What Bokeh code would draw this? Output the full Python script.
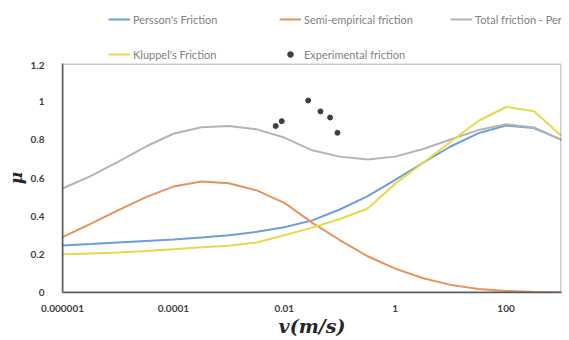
from bokeh.plotting import figure
from bokeh.layouts import column
from bokeh.models import Range1d, FixedTicker, Legend, LegendItem, BoxAnnotation
from bokeh.embed import file_html
from bokeh.resources import INLINE

# ---- data ----
velocity = [1e-6, 3.2e-6, 1e-5, 3.2e-5, 1e-4, 3.2e-4, 1e-3, 3.2e-3, 1e-2, 3.2e-2,
            0.1, 0.32, 1, 3.2, 10, 32, 100, 320, 1000]
persson = [0.246, 0.254, 0.262, 0.270, 0.278, 0.288, 0.300, 0.318, 0.342, 0.378,
           0.435, 0.505, 0.590, 0.680, 0.765, 0.835, 0.875, 0.862, 0.800]
semi_empirical = [0.290, 0.360, 0.430, 0.500, 0.555, 0.582, 0.572, 0.535, 0.470, 0.365,
                  0.275, 0.190, 0.125, 0.075, 0.040, 0.018, 0.008, 0.003, 0.000]
total_persson = [0.545, 0.610, 0.685, 0.765, 0.832, 0.866, 0.872, 0.855, 0.812, 0.745,
                 0.712, 0.697, 0.712, 0.752, 0.802, 0.852, 0.882, 0.865, 0.800]
kluppel = [0.200, 0.205, 0.210, 0.218, 0.227, 0.237, 0.245, 0.262, 0.300, 0.340,
           0.385, 0.440, 0.570, 0.680, 0.790, 0.900, 0.972, 0.950, 0.820]
exp_velocity = [0.007, 0.009, 0.027, 0.045, 0.067, 0.091]
exp_friction = [0.872, 0.898, 1.006, 0.949, 0.917, 0.837]

x_ticks = [1e-6, 1e-4, 1e-2, 1, 100]
x_tick_labels = ["0.000001", "0.0001", "0.01", "1", "100"]
y_ticks = [0, 0.2, 0.4, 0.6, 0.8, 1.0, 1.2]
y_tick_labels = ["0", "0.2", "0.4", "0.6", "0.8", "1", "1.2"]

series_names = ["Persson's Friction", "Semi-empirical friction", "Total friction - Person",
                "Kluppel's Friction", "Experimental friction"]
series_values = [persson, semi_empirical, total_persson, kluppel]
series_colors = ["#6E9ED4", "#E6925C", "#B4B4B4", "#E6DA4A"]
POINT_COLOR = "#3f3f3f"

X_MIN, X_MAX, Y_MIN, Y_MAX = 1e-6, 1000, 0, 1.2
FRAME = "#5a5a5a"

# ---------------- main chart ----------------
p = figure(width=569, height=279, x_axis_type="log",
           x_range=Range1d(X_MIN, X_MAX), y_range=Range1d(Y_MIN, Y_MAX),
           output_backend="svg", toolbar_location=None,
           min_border_left=62, min_border_right=8, min_border_top=2, min_border_bottom=48)
p.background_fill_color = "white"
p.border_fill_color = "white"
p.grid.visible = False
p.outline_line_color = None

for vals, col in zip(series_values, series_colors):
    p.line(velocity, vals, line_color=col, line_width=2)
p.scatter(exp_velocity, exp_friction, marker="circle", size=5,
          fill_color=POINT_COLOR, line_color=POINT_COLOR)

# plot-area frame along the range limits
p.add_layout(BoxAnnotation(left=X_MIN, right=X_MAX, bottom=Y_MIN, top=Y_MAX,
                           fill_alpha=0, line_color=FRAME, line_width=3))

for ax in (p.xaxis[0], p.yaxis[0]):
    ax.axis_line_color = FRAME
    ax.axis_line_width = 1.5
    ax.major_tick_line_color = None
    ax.minor_tick_line_color = None
    ax.major_label_text_font = "Lato"
    ax.major_label_text_font_style = "bold"
    ax.major_label_text_font_size = "10px"
    ax.major_label_text_color = "#404040"

p.xaxis[0].ticker = FixedTicker(ticks=x_ticks)
p.xaxis[0].major_label_overrides = {t: l for t, l in zip(x_ticks, x_tick_labels)}
p.xaxis[0].major_label_standoff = 6
p.xaxis[0].axis_label = "v(m/s)"
p.xaxis[0].axis_label_text_font = "DejaVu Serif"
p.xaxis[0].axis_label_text_font_style = "bold italic"
p.xaxis[0].axis_label_text_font_size = "19px"
p.xaxis[0].axis_label_text_color = "#262626"
p.xaxis[0].axis_label_standoff = 0

p.yaxis[0].ticker = FixedTicker(ticks=y_ticks)
p.yaxis[0].major_label_overrides = {t: l for t, l in zip(y_ticks, y_tick_labels)}
p.yaxis[0].major_label_standoff = 12
p.yaxis[0].axis_label = "μ"
p.yaxis[0].axis_label_text_font = "DejaVu Serif"
p.yaxis[0].axis_label_text_font_style = "bold italic"
p.yaxis[0].axis_label_text_font_size = "17px"
p.yaxis[0].axis_label_text_color = "#262626"
p.yaxis[0].axis_label_standoff = 2

# ---------------- legend strip above the chart ----------------
# same series, drawn outside this strip's visible y-range so only the legend shows
lg = figure(width=569, height=61, x_axis_type="log",
            x_range=Range1d(X_MIN, X_MAX), y_range=Range1d(10, 11),
            x_axis_location=None, y_axis_location=None,
            output_backend="svg", toolbar_location=None,
            min_border_left=0, min_border_right=0, min_border_top=0, min_border_bottom=0)
lg.grid.visible = False
lg.outline_line_color = None
lg.background_fill_color = "white"
lg.border_fill_color = "white"

leg_renderers = [lg.line(velocity, vals, line_color=col, line_width=2)
                 for vals, col in zip(series_values, series_colors)]
leg_renderers.append(lg.scatter(exp_velocity, exp_friction, marker="circle", size=5,
                                fill_color=POINT_COLOR, line_color=POINT_COLOR))

legend = Legend(items=[LegendItem(label=n, renderers=[r]) for n, r in
                       zip(series_names, leg_renderers)],
                location=(46, 0), orientation="horizontal", ncols=3,
                glyph_width=22, glyph_height=14, label_height=14, label_width=125,
                label_standoff=3, spacing=21, padding=4, margin=0,
                label_text_font="Lato", label_text_font_size="11px",
                label_text_color="#7f7f7f",
                background_fill_alpha=0, border_line_color=None)
lg.add_layout(legend, "center")

layout = column(lg, p, spacing=0)
open("out.html", "w").write(file_html(layout, INLINE))
